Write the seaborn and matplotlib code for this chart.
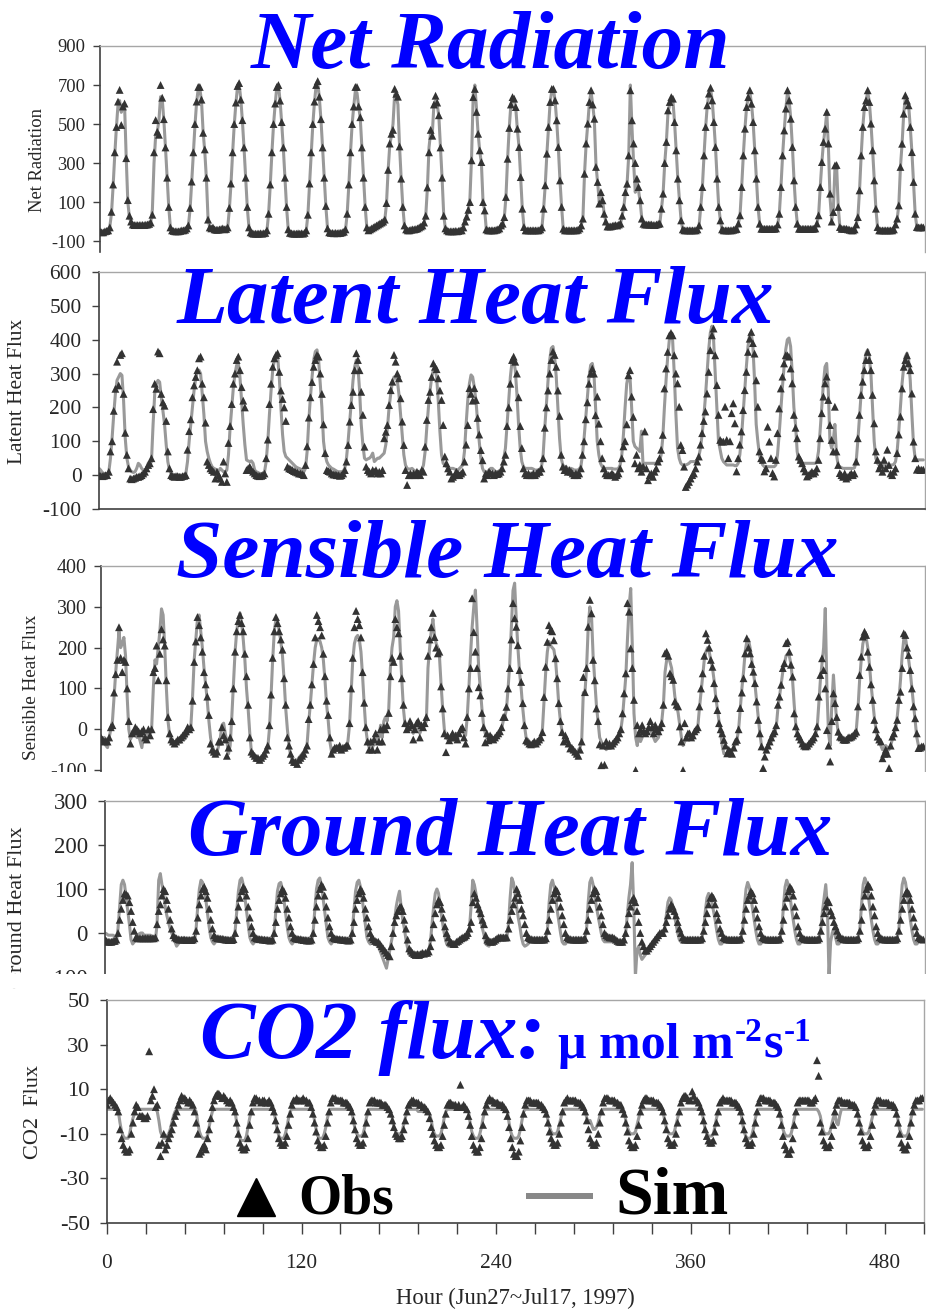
import numpy as np
import matplotlib
matplotlib.use("Agg")
import matplotlib.pyplot as plt
import seaborn as sns
from matplotlib.patches import Rectangle
from matplotlib.lines import Line2D

# hourly values, one row of 24 hours per day (Jun 27 .. Jul 17, 1997)
net_rad_obs = [
    [-50,-55,-55,-50,-48,-45,-30,50,190,355,485,615,675,495,590,605,325,110,30,0,-15,-18,-18,-18],
    [-18,-18,-17,-18,-16,-15,-12,-5,35,355,520,460,445,700,635,525,380,225,75,-30,-45,-48,-50,-50],
    [-50,-48,-45,-45,-42,-35,-20,70,205,355,500,615,690,690,625,455,370,225,10,-30,-35,-30,-40,-42],
    [-42,-40,-38,-35,-40,-38,-30,70,195,355,500,610,695,710,625,520,380,225,75,-30,-55,-60,-62,-62],
    [-62,-62,-60,-62,-60,-58,-45,40,190,355,500,605,690,700,620,510,380,225,75,-40,-58,-60,-62,-62],
    [-62,-60,-62,-60,-62,-58,-45,35,195,355,500,615,700,720,640,525,380,225,80,-35,-55,-58,-58,-60],
    [-58,-60,-58,-58,-55,-52,-40,40,190,355,500,590,690,690,590,535,380,225,75,-30,-45,-40,-35,-30],
    [-25,-20,-15,-10,-5,0,10,95,265,400,450,470,680,655,640,385,220,75,-20,-40,-45,-45,-42,-40],
    [-40,-38,-35,-30,-25,-20,-5,30,175,355,470,440,600,645,610,545,380,225,30,-35,-45,-50,-50,-50],
    [-50,-48,-50,-48,-45,-45,-30,0,25,60,100,314,638,680,562,450,365,305,100,57,-40,-45,-45,-45],
    [-45,-45,-42,-40,-35,-20,-11,23,126,322,480,600,638,630,587,476,382,228,66,-28,-45,-45,-45,-45],
    [-45,-45,-45,-45,-45,-40,-30,66,186,348,485,613,680,680,621,519,382,211,75,-37,-45,-45,-45,-45],
    [-45,-45,-45,-45,-42,-35,-20,15,245,400,502,613,673,600,527,280,203,92,151,109,40,0,-25,-25],
    [-25,-22,-20,-18,-20,-15,-10,30,75,151,194,339,673,519,400,300,220,177,109,15,-11,-15,-15,-15],
    [-15,-15,-18,-18,-15,-12,-10,66,143,300,408,570,613,638,630,510,365,220,109,6,-40,-45,-45,-45],
    [-45,-45,-45,-45,-45,-40,-20,75,177,339,485,596,656,686,621,510,382,220,75,6,-40,-45,-45,-45],
    [-45,-45,-45,-42,-40,-38,-10,32,177,339,476,587,638,673,604,510,365,220,75,-11,-37,-37,-37,-37],
    [-37,-37,-37,-37,-37,-35,-15,40,177,339,467,579,673,621,527,382,211,75,-11,-37,-37,-37,-37,-37],
    [-37,-37,-37,-37,-37,-35,-10,32,177,305,408,476,562,400,143,0,49,288,290,75,-28,-37,-37,-37],
    [-37,-40,-42,-45,-45,-40,-15,23,160,339,485,587,621,673,613,502,365,211,66,-28,-45,-45,-45,-45],
    [-45,-45,-45,-45,-45,-40,-15,15,83,280,399,553,647,620,596,485,356,203,40,-28,-30,-30,-28,-30],
]
net_rad_sim = [
    [-45,-50,-50,-48,-45,-42,-25,40,180,340,480,600,620,560,590,600,330,100,20,-5,-15,-15,-18,-18],
    [-18,-18,-17,-18,-16,-15,-12,-5,60,300,440,460,520,640,630,520,380,225,75,-30,-45,-48,-50,-50],
    [-50,-48,-45,-45,-42,-35,-20,60,200,350,490,610,680,680,620,460,360,220,15,-30,-35,-32,-38,-40],
    [-42,-40,-38,-35,-38,-38,-30,60,190,350,495,605,690,705,630,515,375,220,70,-30,-55,-60,-60,-62],
    [-62,-62,-60,-60,-60,-58,-45,40,185,350,495,600,690,700,620,505,375,220,70,-40,-58,-60,-60,-62],
    [-62,-60,-60,-60,-60,-58,-45,35,190,350,495,610,695,715,635,520,375,220,75,-35,-55,-58,-58,-60],
    [-58,-58,-58,-58,-55,-52,-40,40,185,350,495,590,670,660,590,530,375,220,75,-30,-45,-40,-35,-30],
    [-25,-20,-15,-10,-5,0,10,90,260,390,440,500,650,640,600,385,220,75,-20,-40,-45,-45,-42,-40],
    [-40,-38,-35,-30,-25,-20,-5,30,170,380,460,450,600,620,600,540,375,220,30,-35,-45,-50,-50,-50],
    [-50,-48,-50,-48,-45,-45,-30,0,25,60,120,330,650,700,580,450,360,300,100,57,-40,-45,-45,-45],
    [-45,-45,-42,-40,-35,-20,-11,23,126,322,480,600,630,625,580,470,380,225,66,-28,-45,-45,-45,-45],
    [-45,-45,-45,-45,-45,-40,-30,66,186,348,485,613,670,680,621,515,380,211,75,-37,-45,-45,-45,-45],
    [-45,-45,-45,-45,-42,-35,-20,15,245,400,502,613,665,600,520,290,200,100,150,110,40,0,-25,-25],
    [-25,-22,-20,-18,-20,-15,-10,30,75,151,194,339,700,480,300,150,200,160,100,15,-11,-15,-15,-15],
    [-15,-15,-18,-18,-15,-12,-10,66,143,300,408,560,600,630,620,510,365,220,109,6,-40,-45,-45,-45],
    [-45,-45,-45,-45,-45,-40,-20,75,177,339,485,596,656,680,621,510,382,220,75,6,-40,-45,-45,-45],
    [-45,-45,-45,-42,-40,-38,-10,32,177,339,476,587,638,665,604,510,365,220,75,-11,-37,-37,-37,-37],
    [-37,-37,-37,-37,-37,-35,-15,40,177,339,467,579,665,621,527,382,211,75,-11,-37,-37,-37,-37,-37],
    [-37,-37,-37,-37,-37,-35,-10,32,177,305,408,476,560,380,120,10,60,280,285,75,-28,-37,-37,-37],
    [-37,-40,-42,-45,-45,-40,-15,23,160,339,485,587,621,665,613,502,365,211,66,-28,-45,-45,-45,-45],
    [-45,-45,-45,-45,-45,-40,-15,15,83,280,399,553,640,620,596,485,356,203,40,-28,-30,-30,-28,-30],
]

latent_obs = [
    [0,-2,-3,-2,0,0,10,70,100,190,255,335,265,355,360,240,125,60,20,-10,-12,-10,-8,-5],
    [-5,-3,0,5,10,20,30,35,50,195,270,255,365,360,240,215,205,160,70,20,0,-3,-5,-3],
    [-3,-5,-5,-3,-2,0,75,130,165,230,265,290,310,345,350,270,230,155,40,30,20,15,10,-10],
    [10,0,-10,-20,40,5,-20,95,145,210,270,300,340,350,310,260,220,200,15,20,25,15,10,5],
    [0,-2,-3,-2,0,5,50,105,210,270,320,345,355,360,305,250,225,200,160,25,20,18,15,12],
    [10,8,5,5,3,0,30,85,170,230,275,320,340,355,350,300,240,150,65,15,12,10,5,2],
    [2,0,0,-2,0,5,15,40,89,158,207,246,310,360,340,310,246,178,84,25,15,10,5,15],
    [10,15,5,10,5,15,109,128,148,207,251,276,355,335,300,286,227,158,89,15,-29,0,5,0],
    [5,0,10,5,0,15,10,84,163,222,246,290,330,320,313,286,250,222,148,55,35,20,10,-10],
    [-5,0,10,5,0,5,10,40,90,148,257,240,220,257,222,169,120,74,44,-10,5,0,10,5],
    [5,0,5,3,5,10,20,40,60,145,200,270,340,350,335,300,230,145,80,20,5,0,5,0],
    [0,5,0,5,10,10,20,50,140,200,250,300,340,365,355,320,250,175,60,25,15,20,10,15],
    [10,5,0,5,0,5,20,60,100,165,215,270,300,315,300,177,232,152,100,50,20,5,0,0],
    [0,5,0,-5,0,5,20,50,85,100,150,295,310,232,172,35,60,20,30,10,25,129,20,-15],
    [0,5,-5,10,20,40,50,75,119,256,315,364,413,420,413,354,300,271,202,89,74,25,-35,-28],
    [-20,-10,0,5,20,40,55,90,124,160,188,241,305,369,413,433,354,266,178,104,99,99,202,104],
    [50,100,183,212,153,11,50,90,129,192,251,305,364,403,423,390,359,280,202,70,50,45,11,20],
    [143,99,50,6,-4,45,124,197,256,291,330,354,354,350,315,271,178,140,109,55,45,35,20,11],
    [-4,0,5,10,5,10,20,45,109,183,232,271,291,222,148,104,70,202,70,30,6,0,-5,5],
    [-10,-5,0,5,0,5,40,109,178,237,276,310,340,364,340,310,237,153,70,45,20,30,10,45],
    [20,75,30,5,0,10,20,65,120,173,256,320,340,354,330,310,241,99,50,16,20,15,16,16],
]
latent_sim = [
    [20,15,8,5,3,2,10,50,110,180,240,280,290,300,295,220,110,50,25,15,10,8,10,20],
    [35,30,20,15,10,20,35,30,40,150,240,270,280,275,230,190,150,90,40,15,5,2,0,0],
    [0,0,-2,-3,0,5,40,100,150,200,250,285,305,310,300,240,180,100,70,50,35,25,20,18],
    [15,12,20,15,10,10,15,60,140,200,260,300,325,330,290,220,150,90,45,42,40,42,35,15],
    [10,8,5,5,5,10,40,100,180,250,310,340,355,350,290,200,120,70,55,50,45,40,35,30],
    [25,22,20,18,15,10,20,70,160,230,290,340,365,370,340,270,200,100,60,40,30,25,20,18],
    [15,12,10,10,10,12,20,50,100,160,220,280,320,340,320,250,150,90,50,45,48,50,55,65],
    [40,45,50,50,55,60,65,90,140,200,240,275,290,290,280,240,180,120,60,30,20,18,18,20],
    [15,12,10,10,12,15,30,70,140,200,250,290,310,315,290,220,130,60,35,30,25,20,20,20],
    [20,18,15,15,20,25,30,70,150,220,270,296,290,260,220,160,100,50,20,10,8,10,15,20],
    [20,15,10,10,12,15,25,50,80,150,220,290,335,340,310,240,150,80,40,25,20,20,20,20],
    [20,18,15,15,15,18,25,60,140,210,280,340,375,380,350,290,200,110,50,30,25,25,20,20],
    [20,18,15,15,15,18,25,60,110,170,230,290,325,330,300,200,100,60,35,25,20,20,20,20],
    [20,20,18,18,18,20,30,60,120,200,270,295,290,200,100,85,80,75,70,130,25,35,35,35],
    [35,35,35,35,35,35,40,60,110,200,280,350,400,420,400,300,180,80,50,35,30,30,30,32],
    [35,40,40,40,40,45,55,80,120,170,230,300,370,420,440,400,300,200,100,75,50,40,35,30],
    [30,30,30,30,28,28,35,60,110,180,250,320,380,415,420,380,280,150,100,60,40,30,25,25],
    [25,25,25,25,25,30,60,120,190,260,320,370,400,405,380,300,200,150,70,40,35,35,35,35],
    [35,35,35,35,35,35,40,70,130,200,270,320,330,250,100,80,100,150,60,30,25,22,20,20],
    [20,20,20,20,20,22,40,100,170,240,290,330,360,370,350,300,200,100,50,35,30,30,30,30],
    [30,30,30,30,30,32,40,70,130,200,270,320,350,360,340,280,180,90,50,45,45,45,45,45],
]

sensible_obs = [
    [-20,-25,-30,-28,-30,-20,5,10,90,135,170,250,175,140,170,165,100,20,-35,-10,-5,5,0,-5],
    [-10,-5,0,-20,-25,0,-15,0,140,150,205,120,185,245,220,205,120,30,-10,-25,-30,-35,-30,-25],
    [-25,-20,-15,-10,-5,5,0,5,70,165,215,275,255,225,190,140,110,80,35,-35,-50,-55,-60,-55],
    [-30,-30,5,-15,-25,-65,-45,-20,20,100,190,240,265,280,260,240,185,130,60,-20,-55,-60,-65,-70],
    [-70,-75,-70,-65,-60,-50,-40,10,85,175,240,275,260,240,220,195,125,60,-20,-40,-60,-75,-80,-80],
    [-85,-75,-70,-65,-60,-50,-40,25,60,110,160,225,280,265,250,230,185,130,70,35,-20,-60,-50,-45],
    [-45,-45,-40,-50,-45,-45,-40,-40,15,100,175,250,290,270,255,225,140,65,5,-30,-50,-30,-50,-25],
    [-10,-50,-30,0,-30,5,0,10,40,130,175,165,270,250,235,180,125,60,15,0,5,20,10,-25],
    [0,15,20,-20,10,5,15,30,180,220,250,285,226,200,186,190,105,51,-10,-56,-15,-27,-20,-10],
    [-20,-15,-25,-10,0,5,-20,-35,30,100,150,321,238,190,150,103,83,40,5,-32,-10,-27,-15,-20],
    [-25,-20,-15,-10,-5,5,30,30,55,100,150,220,309,272,251,206,145,116,64,10,-27,-30,-35,-37],
    [-35,-30,-35,-30,-25,-20,-7,79,153,214,255,243,240,218,174,125,64,20,-7,-30,-15,-25,-35,-47],
    [-45,-50,-55,-60,-65,-50,-30,128,91,150,251,317,284,170,120,51,20,-37,-88,-40,-87,-30,-40,-35],
    [-40,-35,-30,-25,-20,-10,0,39,88,137,309,288,198,150,72,-100,10,-10,0,10,-5,-10,-5,5],
    [20,5,-10,10,0,-5,5,15,60,186,190,180,137,130,121,68,60,56,7,-30,-100,15,-20,-10],
    [-10,-20,-15,-5,0,5,56,100,137,180,235,219,200,170,153,113,76,47,15,0,-10,-26,-40,-59],
    [-50,-55,-60,-45,-30,-26,0,52,90,125,186,223,200,186,160,141,113,68,23,-10,-42,-95,-67,-50],
    [-40,-30,-20,-10,-5,10,60,80,109,150,162,211,215,190,158,129,39,7,-10,-18,-25,-35,-40,-42],
    [-40,-35,-30,-25,-20,-10,7,80,133,174,145,100,-2,-40,-79,20,88,64,30,-6,-18,-20,-25,-26],
    [-25,-20,-20,-18,-15,-10,-6,56,133,178,227,239,231,190,153,110,72,23,0,-18,-25,-30,-71,-60],
    [-50,-60,-95,-40,-18,-10,5,23,72,92,150,235,231,200,182,145,100,56,27,-10,-46,-45,-42,-42],
]
sensible_sim = [
    [-30,-35,-20,-40,-45,-20,0,20,80,140,190,240,200,210,225,180,80,0,-25,-15,-10,-5,-20,-15],
    [-30,-45,-15,-10,-5,-20,-10,5,100,170,160,200,240,295,280,200,100,20,-15,-30,-30,-35,-35,-30],
    [-30,-25,-20,-25,-20,-10,0,10,80,170,220,270,280,240,200,150,110,70,20,-20,-45,-50,-60,-55],
    [-40,-20,10,15,-10,-30,-60,-40,30,110,190,240,270,285,260,220,170,100,50,-10,-55,-65,-70,-75],
    [-70,-75,-70,-65,-60,-55,-45,0,80,170,240,270,265,240,215,180,120,50,0,-40,-65,-75,-78,-80],
    [-75,-70,-65,-60,-55,-50,-40,15,60,110,160,200,220,222,215,200,170,120,60,20,-30,-55,-50,-50],
    [-50,-48,-45,-45,-45,-45,-40,-30,10,90,170,210,225,230,220,190,130,60,0,-30,-45,-40,-45,-35],
    [-20,-30,-20,10,-20,20,30,20,50,150,200,225,300,315,290,200,120,50,10,5,10,15,0,-10],
    [10,0,15,-10,5,0,10,20,150,200,240,270,230,210,200,180,110,50,0,-20,-25,-20,-15,-10],
    [-15,-10,-15,-10,0,5,-10,-15,30,100,180,250,300,341,250,150,100,50,10,-10,-20,-25,-20,-20],
    [-25,-20,-15,-10,-5,0,20,30,50,100,160,250,340,358,270,200,140,100,50,10,-20,-25,-30,-35],
    [-35,-30,-30,-25,-25,-20,0,70,140,190,215,205,200,195,170,120,60,20,-5,-20,-20,-30,-35,-40],
    [-45,-50,-55,-55,-50,-45,-30,90,90,150,250,300,280,180,120,60,20,-20,-30,-40,-40,-50,-45,-45],
    [-40,-35,-30,-25,-20,-15,0,30,80,130,220,300,345,200,39,-20,-40,-10,-30,-20,-5,-10,-5,0],
    [0,-10,-20,-30,-25,-20,0,20,60,140,170,180,165,150,120,80,60,40,10,-20,-40,-30,-25,-20],
    [-20,-25,-20,-10,0,5,50,90,130,170,190,200,190,170,150,120,80,50,20,-10,-40,-60,-60,-62],
    [-60,-55,-50,-45,-35,-25,0,50,100,140,190,215,220,200,170,140,110,70,30,-10,-40,-50,-50,-45],
    [-40,-35,-30,-20,-10,5,50,80,110,140,160,180,185,180,160,120,60,10,-15,-25,-35,-40,-45,-45],
    [-40,-35,-30,-25,-20,-10,0,60,120,160,200,296,100,-10,-40,60,133,70,20,-10,-20,-25,-25,-25],
    [-25,-25,-20,-20,-15,-10,0,50,120,170,210,225,225,200,160,110,70,30,0,-20,-30,-40,-50,-45],
    [-40,-45,-50,-40,-25,-10,0,30,70,120,180,220,225,200,170,140,100,60,20,-20,-40,-45,-45,-45],
]

ground_obs = [
    [-15,-18,-20,-20,-20,-18,-18,-15,0,30,55,75,90,88,85,70,50,25,5,-10,-12,-12,-12,-12],
    [-12,-12,-12,-12,-12,-12,-12,-10,20,50,65,85,100,95,75,55,30,10,-5,-10,-12,-14,-15,-15],
    [-15,-15,-16,-16,-16,-16,-15,-12,5,35,65,85,100,105,95,80,55,30,10,-5,-10,-12,-12,-13],
    [-13,-14,-15,-15,-16,-16,-16,-14,0,30,60,80,95,105,100,85,60,35,15,0,-10,-12,-13,-14],
    [-14,-15,-15,-16,-16,-17,-17,-15,0,25,55,75,90,100,95,80,55,35,15,0,-10,-12,-13,-14],
    [-14,-15,-16,-16,-17,-17,-17,-15,0,30,60,85,100,110,105,85,60,35,15,0,-10,-12,-13,-14],
    [-14,-15,-15,-16,-16,-17,-17,-15,0,25,55,75,90,100,95,80,55,35,15,0,-10,-14,-18,-20],
    [-20,-25,-30,-35,-40,-45,-50,-53,-30,0,25,40,50,58,60,50,30,10,-15,-35,-40,-45,-48,-50],
    [-48,-50,-48,-45,-47,-45,-45,-42,-30,-10,20,45,65,75,70,55,35,15,0,-10,-20,-22,-25,-25],
    [-20,-18,-15,-12,-10,-8,-5,0,10,25,70,90,80,65,55,45,30,20,-5,-15,-18,-20,-20,-18],
    [-15,-12,-10,-10,-10,-10,-10,-10,10,30,50,65,80,100,90,75,55,40,20,0,-10,-12,-14,-15],
    [-15,-15,-15,-15,-15,-15,-15,-12,5,30,55,75,90,100,95,80,60,40,20,0,-10,-12,-14,-15],
    [-15,-15,-15,-15,-15,-15,-15,-12,5,30,55,75,90,100,95,80,60,40,20,0,-5,-8,-10,-10],
    [-10,-12,-15,-18,-20,-20,-20,-15,0,20,45,60,75,80,70,50,25,0,-20,-30,-40,-40,-35,-30],
    [-25,-20,-15,-10,-5,0,0,0,10,25,40,55,65,60,50,40,25,10,0,-10,-15,-15,-15,-15],
    [-15,-15,-15,-15,-15,-15,-15,-12,5,25,45,65,80,85,80,65,45,30,10,0,-10,-12,-14,-15],
    [-15,-15,-15,-15,-15,-15,-15,-12,5,30,55,75,85,95,90,75,55,35,15,0,-10,-12,-14,-15],
    [-15,-15,-15,-15,-15,-15,-15,-12,5,30,60,80,95,105,100,85,60,40,15,0,-10,-12,-14,-15],
    [-15,-15,-15,-15,-15,-15,-15,-12,5,25,45,60,75,70,50,40,25,15,5,-5,-10,-12,-14,-15],
    [-15,-15,-15,-15,-15,-15,-15,-12,5,30,60,85,100,110,105,85,60,40,15,0,-10,-12,-14,-15],
    [-15,-15,-15,-15,-15,-15,-15,-12,5,30,55,75,90,95,90,75,55,35,15,0,-10,-12,-14,-15],
]
ground_sim = [
    [0,-2,-5,-5,-5,-5,-8,-20,10,60,110,120,110,80,50,20,-15,-25,-20,-15,-5,-2,0,0],
    [-5,-5,-5,-5,-5,-8,-10,-15,20,120,135,110,90,60,40,25,10,0,-10,-20,-30,-25,-20,-15],
    [-12,-12,-12,-12,-12,-12,-15,-20,10,60,100,120,115,100,75,45,15,-10,-20,-25,-20,-15,-12,-12],
    [-12,-12,-12,-12,-12,-12,-15,-20,5,50,95,120,125,110,80,50,20,-10,-20,-25,-20,-15,-12,-12],
    [-12,-12,-12,-12,-12,-12,-15,-20,5,50,95,112,115,100,75,45,15,-10,-20,-25,-20,-15,-12,-12],
    [-12,-12,-12,-12,-12,-12,-15,-20,5,55,100,120,125,110,80,50,20,-10,-20,-25,-20,-15,-12,-12],
    [-12,-12,-12,-12,-12,-12,-15,-20,5,50,95,115,120,105,80,50,20,-10,-20,-25,-22,-22,-25,-28],
    [-30,-40,-50,-60,-70,-80,-60,-40,-20,0,30,60,80,95,60,30,10,-15,-35,-50,-50,-50,-48,-45],
    [-45,-45,-45,-45,-45,-45,-45,-40,-20,20,60,90,100,90,60,35,10,-10,-25,-30,-25,-20,-20,-25],
    [-25,-20,-15,-15,-15,-15,-15,-10,10,60,120,110,90,65,40,25,10,-5,-25,-28,-30,-20,-15,-15],
    [-15,-15,-15,-15,-15,-15,-15,-10,20,80,125,115,90,60,35,15,-10,-25,-30,-28,-25,-20,-15,-15],
    [-15,-15,-15,-15,-15,-15,-15,-12,10,70,110,120,105,80,50,25,0,-20,-25,-25,-20,-15,-15,-15],
    [-15,-15,-15,-15,-15,-15,-15,-12,10,70,115,125,110,85,60,40,20,0,-15,-20,-20,-20,-20,-20],
    [-20,-20,-20,-20,-20,-20,-20,-15,0,40,80,110,160,60,-100,-40,-30,-50,-60,-55,-50,-45,-40,-30],
    [-25,-20,-15,-10,-5,-5,-5,-5,10,40,70,80,75,60,40,20,0,-15,-20,-20,-15,-15,-15,-15],
    [-15,-15,-15,-15,-15,-15,-15,-10,10,50,80,90,85,70,50,30,5,-15,-25,-25,-20,-15,-15,-15],
    [-15,-15,-15,-15,-15,-15,-15,-10,10,60,100,115,105,80,55,30,5,-15,-25,-25,-20,-15,-15,-15],
    [-15,-15,-15,-15,-15,-15,-15,-10,10,60,105,120,110,85,55,30,5,-15,-25,-25,-20,-15,-15,-15],
    [-15,-15,-15,-15,-15,-15,-15,-10,10,50,80,110,60,-100,-20,0,10,-10,-25,-25,-20,-15,-15,-15],
    [-15,-15,-15,-15,-15,-15,-15,-10,10,65,110,125,115,90,60,30,5,-15,-25,-25,-20,-15,-15,-15],
    [-15,-15,-15,-15,-15,-15,-15,-10,10,65,110,125,115,90,60,30,5,-15,-25,-25,-20,-15,-15,-15],
]

co2_obs = [
    [3,5,6,5,4,3,2,0,-8,-12,-15,-17,-18,-18,-17,-10,-5,0,3,2,-2,-2,-2,-3],
    [-3,-2,27,5,7,10,2,3,-15,-20,-14,-10,-17,-15,-12,-10,-8,-5,-2,0,3,5,7,6],
    [6,5,4,5,4,3,0,-5,-10,-19,-18,-16,-15,-17,-12,-8,-3,2,5,7,8,8,7,6],
    [7,6,5,4,5,4,2,0,-5,-10,-14,-16,-17,-17,-16,-12,-6,0,4,6,6,5,5,4],
    [5,5,4,4,5,4,2,0,-4,-8,-12,-14,-15,-15,-14,-11,-6,-1,3,5,5,6,5,5],
    [5,6,5,5,4,4,2,-1,-5,-9,-13,-15,-16,-16,-15,-11,-5,0,4,6,6,6,5,5],
    [5,5,4,4,4,3,2,0,-4,-8,-12,-14,-15,-15,-14,-10,-5,0,4,5,5,5,4,4],
    [4,4,3,3,3,2,1,-1,-4,-7,-10,-11,-12,-12,-11,-8,-4,0,3,4,5,5,4,4],
    [4,3,3,2,2,1,0,-3,-7,-10,-13,-15,-16,-16,-15,-11,-6,-1,3,4,4,3,3,3],
    [2,3,12,2,3,2,1,-2,-6,-11,-15,-17,-18,-18,-16,-12,-6,0,3,5,6,5,5,4],
    [4,4,3,3,3,2,1,-2,-7,-12,-16,-19,-20,-20,-18,-13,-7,-1,3,5,5,5,4,4],
    [4,4,4,3,3,2,1,-1,-5,-9,-12,-14,-15,-15,-14,-10,-5,0,4,5,6,5,5,5],
    [5,5,4,4,4,3,2,0,-4,-8,-12,-14,-15,-15,-14,-10,-5,0,4,6,6,6,5,5],
    [5,5,4,4,3,3,1,-1,-5,-9,-13,-15,-16,-16,-15,-11,-6,0,3,5,6,6,5,5],
    [5,5,4,4,4,3,2,0,-4,-8,-12,-14,-15,-15,-14,-10,-5,0,4,6,7,7,6,5],
    [5,9,7,5,5,4,2,0,-4,-8,-11,-13,-14,-14,-13,-9,-5,0,4,5,6,5,5,5],
    [5,5,4,4,4,3,2,0,-4,-8,-12,-14,-15,-15,-14,-10,-5,0,4,6,6,6,5,5],
    [5,5,4,4,4,3,2,-1,-6,-11,-15,-17,-19,-19,-17,-12,-6,0,4,5,5,5,5,5],
    [5,5,4,4,5,6,23,16,-5,-9,-13,-15,-16,-16,-15,-11,-6,0,3,5,5,5,4,4],
    [4,4,4,3,3,3,2,-1,-5,-9,-13,-15,-16,-16,-15,-11,-6,0,3,5,5,5,4,4],
    [4,4,4,3,3,3,2,-1,-5,-10,-14,-16,-17,-17,-15,-11,-5,0,3,5,5,5,6,6],
]
co2_sim = [
    [1,1,1,1,1,1,1,0,-5,-9,-11,-12,-12,-12,-10,-6,-3,-1,1,1,1,1,1,1],
    [1,1,1,1,1,1,1,0,-4,-9,-11,-12,-12,-11,-10,-8,-5,-2,0,1,1,1,1,1],
    [1,1,1,1,1,1,1,0,-5,-9,-11,-12,-12,-12,-11,-7,-3,0,1,1,1,1,1,1],
    [1,1,1,1,1,1,1,0,-5,-9,-12,-13,-13,-13,-11,-7,-3,0,1,1,1,1,1,1],
    [1,1,1,1,1,1,1,0,-4,-8,-11,-12,-12,-12,-10,-7,-3,0,1,1,1,1,1,1],
    [1,1,1,1,1,1,1,0,-4,-8,-11,-12,-12,-12,-10,-7,-3,0,1,1,1,1,1,1],
    [1,1,1,1,1,1,1,0,-4,-8,-10,-11,-11,-11,-10,-7,-3,0,1,1,1,1,1,1],
    [1,1,1,1,1,1,1,0,-3,-7,-9,-10,-10,-10,-9,-6,-3,0,1,1,1,1,1,1],
    [0,0,0,0,0,0,0,-1,-4,-8,-10,-11,-11,-11,-10,-7,-3,0,1,1,1,1,1,1],
    [1,1,1,1,1,1,1,0,-5,-9,-11,-12,-12,-12,-10,-7,-3,0,1,1,1,1,1,1],
    [1,1,1,1,1,1,1,0,-5,-9,-11,-12,-12,-12,-11,-8,-4,0,1,1,1,1,1,1],
    [1,1,1,1,1,1,1,0,-4,-7,-9,-10,-10,-10,-9,-6,-3,0,1,1,1,1,1,1],
    [1,1,1,1,1,1,1,0,-3,-5,-4,-6,-8,-8,-7,-5,-2,0,1,1,1,1,1,1],
    [1,1,1,1,1,1,1,0,-4,-7,-9,-10,-10,-10,-9,-6,-3,0,1,1,1,1,1,1],
    [1,1,1,1,1,1,1,0,-4,-7,-9,-10,-10,-10,-9,-6,-3,0,1,1,1,1,1,1],
    [1,1,1,1,1,1,1,0,-4,-8,-10,-11,-11,-11,-10,-7,-3,0,1,1,1,1,1,1],
    [1,1,1,1,1,1,1,0,-5,-9,-11,-12,-12,-12,-10,-7,-3,0,1,1,1,1,1,1],
    [1,1,1,1,1,1,1,0,-4,-8,-10,-11,-11,-11,-10,-7,-3,0,1,1,1,1,1,1],
    [1,1,1,1,1,1,1,0,-2,-6,-9,-10,-10,-10,-9,-6,-3,-1,-5,-6,-2,1,1,1],
    [1,1,1,1,1,1,1,0,-4,-7,-9,-10,-10,-10,-9,-6,-3,0,1,1,1,1,1,1],
    [1,1,1,1,1,1,1,0,-4,-8,-10,-11,-11,-11,-10,-7,-3,0,1,1,1,1,1,1],
]

hour_ticks = list(range(0, 505, 24))
hour_labels = [str(h) if h % 120 == 0 else "" for h in hour_ticks]

sns.set_style("white")
plt.rcParams["font.family"] = ["Liberation Serif", "DejaVu Serif"]
plt.rcParams["axes.unicode_minus"] = False

W, H = 926, 1312
fig = plt.figure(figsize=(W / 100, H / 100), dpi=100)


def px_box(l, t, r, b):
    return [l / W, 1 - b / H, (r - l) / W, (b - t) / H]


def fx(x):
    return x / W


def fy(y):
    return 1 - y / H


panels = [
    dict(obs=net_rad_obs, sim=net_rad_sim, box=(100, 46, 925, 252), ylim=(-156, 900),
         yticks=[-100, 100, 300, 500, 700, 900], tick_fs=13.3, pad=5.5, bottom=False,
         label="Net Radiation", label_xy=(37, 160), label_fs=13.4,
         title="Net Radiation", title_xy=(491, 68)),
    dict(obs=latent_obs, sim=latent_sim, box=(99, 272, 925, 509), ylim=(-100, 600),
         yticks=list(range(-100, 601, 100)), tick_fs=15.4, pad=7.5, bottom=True,
         label="Latent Heat Flux", label_xy=(18, 391), label_fs=15.4,
         title="Latent Heat Flux", title_xy=(475, 323)),
    dict(obs=sensible_obs, sim=sensible_sim, box=(101, 566, 925, 775), ylim=(-112, 400),
         yticks=list(range(-100, 401, 100)), tick_fs=14.4, pad=5, bottom=False,
         label="Sensible Heat Flux", label_xy=(32, 687), label_fs=13.8,
         title="Sensible Heat Flux", title_xy=(507, 577)),
    dict(obs=ground_obs, sim=ground_sim, box=(105, 801, 925, 977), ylim=(-100, 300),
         yticks=list(range(-100, 301, 100)), tick_fs=16.5, pad=7.5, bottom=False,
         label="Ground Heat Flux", label_xy=(18, 907), label_fs=16,
         title="Ground Heat Flux", title_xy=(510, 855)),
    dict(obs=co2_obs, sim=co2_sim, box=(107, 1000, 924, 1223), ylim=(-50, 50),
         yticks=list(range(-50, 51, 20)), tick_fs=16.2, pad=7.5, bottom=True,
         label="CO2  Flux", label_xy=(34, 1112), label_fs=16,
         title=None, title_xy=None),
]

title_kw = dict(fontsize=60, fontweight="bold", fontstyle="italic", color="#0000FF",
                va="baseline", zorder=10)

for i, p in enumerate(panels):
    ax = fig.add_axes(px_box(*p["box"]))
    obs = np.array(p["obs"]).ravel()
    sim = np.array(p["sim"]).ravel()
    hours = np.arange(obs.size)
    sns.lineplot(x=hours, y=sim, ax=ax, color="#999999", linewidth=2.2, zorder=2,
                 legend=False)
    sns.scatterplot(x=hours, y=obs, ax=ax, marker="^", s=32, color="#333333",
                    edgecolor="none", linewidth=0, zorder=3, legend=False)
    ax.set_xlim(0, 504)
    ax.set_ylim(*p["ylim"])
    ax.set_yticks(p["yticks"])
    ax.set_yticklabels([str(t) for t in p["yticks"]])
    ax.set_xlabel("")
    ax.set_ylabel("")
    ax.tick_params(axis="y", direction="out", length=5, width=1, color="#404040",
                   labelsize=p["tick_fs"], pad=p["pad"], left=True)
    for side in ("top", "right"):
        ax.spines[side].set_color("#a6a6a6")
        ax.spines[side].set_linewidth(1.0)
    ax.spines["left"].set_color("#404040")
    ax.spines["left"].set_linewidth(1.2)
    ax.spines["bottom"].set_visible(p["bottom"])
    ax.spines["bottom"].set_color("#404040")
    ax.spines["bottom"].set_linewidth(1.2)
    if i < 4:
        ax.set_xticks([])
    else:
        ax.set_xticks(hour_ticks)
        ax.set_xticklabels(hour_labels)
        ax.tick_params(axis="x", direction="out", length=8, width=1, color="#404040",
                       labelsize=15.4, pad=14, bottom=True)
    fig.text(fx(p["label_xy"][0]), fy(p["label_xy"][1]), p["label"], rotation=90,
             ha="center", va="center", fontsize=p["label_fs"])
    if p["title"]:
        fig.text(fx(p["title_xy"][0]), fy(p["title_xy"][1]), p["title"], ha="center",
                 **title_kw)

# the next chart area hides the lowest part of the sensible and ground panels
for top, bot in [(772, 792), (974, 988)]:
    fig.add_artist(Rectangle((0, fy(bot)), 1, (bot - top) / H, transform=fig.transFigure,
                             facecolor="white", edgecolor="none", zorder=5))

fig.text(fx(200), fy(1058), "CO2 flux:", ha="left", **title_kw)

# unit text with raised exponents, laid out piece by piece
renderer = fig.canvas.get_renderer()
x_cur = 558
for piece, size, rise in [("μ mol m", 36, 0), ("-2", 24, 17), ("s", 36, 0), ("-1", 24, 17)]:
    t = fig.text(fx(x_cur), fy(1058 - rise), piece, ha="left", va="baseline",
                 fontsize=size, fontweight="bold", color="#0000FF", zorder=10)
    x_cur = t.get_window_extent(renderer).x1 + 1

# legend
fig.add_artist(Line2D([fx(256)], [fy(1197)], marker="^", markersize=27, color="black",
                      linestyle="none"))
fig.text(fx(298), fy(1213), "Obs", ha="left", va="baseline", fontsize=40,
         fontweight="bold", color="black")
fig.add_artist(Line2D([fx(526), fx(593)], [fy(1196), fy(1196)], color="#888888",
                      linewidth=4.3, solid_capstyle="butt"))
fig.text(fx(615), fy(1213), "Sim", ha="left", va="baseline", fontsize=49,
         fontweight="bold", color="black")

fig.text(fx(515), fy(1298), "Hour (Jun27~Jul17, 1997)", ha="center", va="center",
         fontsize=16.3)

fig.savefig("out.png", dpi=100)
